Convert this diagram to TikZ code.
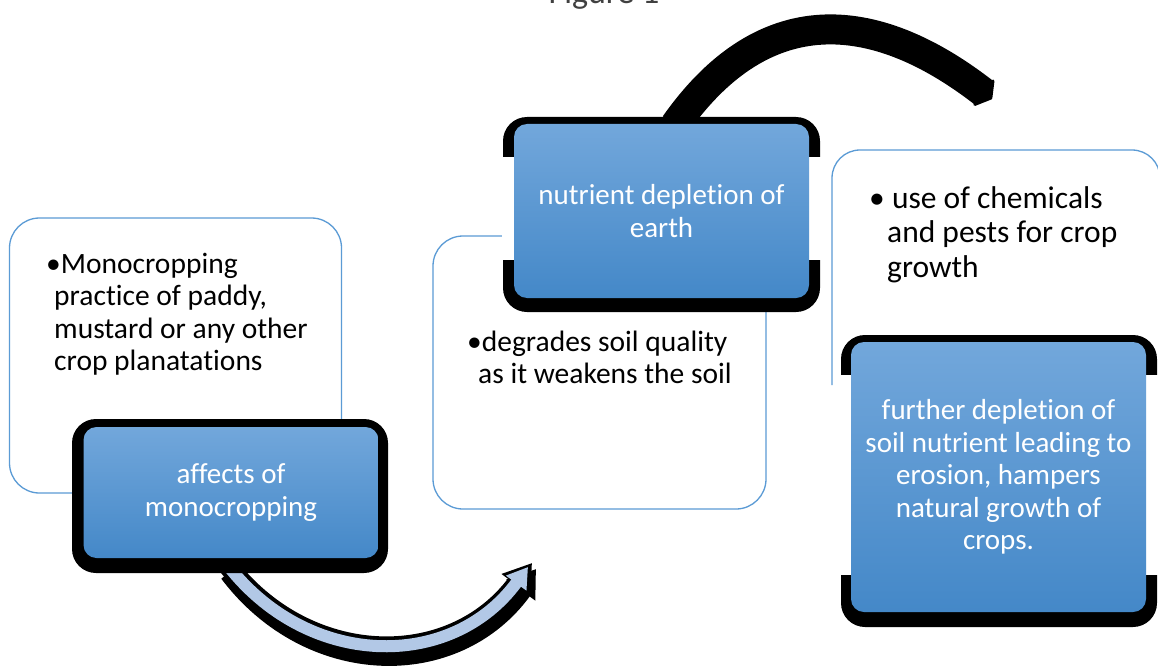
\documentclass[tikz,border=0pt]{standalone}
\usepackage{fontspec}
\setmainfont{Carlito}[Ligatures=NoCommon, Contextuals=NoAlternate]
\usetikzlibrary{arrows.meta}
\definecolor{boxline}{RGB}{91,155,213}
\definecolor{bluetop}{RGB}{114,167,219}
\definecolor{bluebot}{RGB}{68,136,200}
\definecolor{arrowblue}{RGB}{178,200,230}
\definecolor{capgray}{RGB}{64,64,64}
\begin{document}
\begin{tikzpicture}[x=1pt,y=-1pt,
  txtbox/.style={draw=boxline, line width=1.3pt, fill=white, rounded corners=30pt},
  blackframe/.style={fill=black, rounded corners=24pt},
  bluenode/.style={rounded corners=13pt, top color=bluetop, bottom color=bluebot,
    text=white, align=center, font=\fontsize{29}{32.5}\selectfont, inner sep=0pt,
    minimum width=295pt},
  bodytext/.style={anchor=north west, align=left, inner sep=0pt, text=black,
    font=\fontsize{29.5}{32.5}\selectfont},
  gap/.style={fill=white}
]
\useasboundingbox (0,0) rectangle (1158,666);
\fill[white] (0,0) rectangle (1158,666);

% caption
\node[font=\fontsize{34}{40}\selectfont, text=capgray, anchor=base, inner sep=0pt] (cap) at (604,4) {Figure 1};

% white text boxes
\node[txtbox, minimum width=332pt, minimum height=275pt, inner sep=0pt] (box1) at (175.5,355.5) {};
\node[txtbox, minimum width=333pt, minimum height=273pt, inner sep=0pt] (box2) at (599.5,372.5) {};
\draw[draw=boxline, line width=1.3pt, rounded corners=28pt] (832,385) -- (832,150) -- (1160,150) -- (1160,400);
\coordinate (box3) at (832,150);

% named end points of the arrows
\coordinate (a1s) at (226,563);
\coordinate (a1e) at (528,567);
\coordinate (a1eb) at (532,563);
\coordinate (a2s) at (675,125);
\coordinate (a2e) at (992,99);

% bottom arrow (black outline + light blue body)
\draw[line width=22pt, black, -{Triangle[width=34pt,length=26pt]}]
  ([shift={(4,9)}]a1s) .. controls (310,678) and (455,681) .. ([shift={(4,6)}]a1eb);
\draw[line width=20pt, black, -{Triangle[width=34pt,length=27pt]}]
  (a1s) .. controls (306,669) and (451,672) .. (a1eb);
\draw[line width=12pt, arrowblue, -{Triangle[width=24pt,length=20pt]}]
  (a1s) .. controls (306,669) and (451,672) .. (a1e);

% top arrow (black)
\draw[line width=30pt, black, -{Triangle[width=40pt,length=12pt,round]}]
  (a2s) .. controls (773,-14) and (890,20) .. (a2e);

% black frames
\fill[blackframe] (72,419) rectangle (388,573);
\fill[blackframe] (503,117) rectangle (820,312);
\fill[blackframe] (841,335) rectangle (1157,627);
% white gaps in the frames
\fill[gap] (502,157) rectangle (514,260);
\fill[gap] (809,157) rectangle (821,260);
\fill[gap] (840,375) rectangle (851,575);
\fill[gap] (1146,375) rectangle (1158,575);

% blue nodes
\node[bluenode, minimum height=131pt] (n1) at (231,492.5) {affects of\\monocropping};
\node[bluenode, minimum height=174pt] (n2) at (661.5,211) {nutrient depletion of\\earth};
\node[bluenode, minimum height=270pt] (n3) at (998.5,477) {further depletion of\\soil nutrient leading to\\erosion, hampers\\natural growth of\\crops.};

% bullet texts
\node[bodytext] (t1) at (46,249) {\rule{0pt}{24pt}\textbullet Monocropping\\\hspace*{8pt}practice of paddy,\\\hspace*{8pt}mustard or any other\\\hspace*{8pt}crop planatations};
\node[bodytext] (t2) at (467,327) {\rule{0pt}{24pt}\textbullet degrades soil quality\\\hspace*{11pt}as it weakens the soil};
\node[bodytext, font=\fontsize{31.5}{34.5}\selectfont] (t3) at (869,184) {\rule{0pt}{24pt}\textbullet\ use of chemicals\\\hspace*{18pt}and pests for crop\\\hspace*{18pt}growth};
\end{tikzpicture}
\end{document}
